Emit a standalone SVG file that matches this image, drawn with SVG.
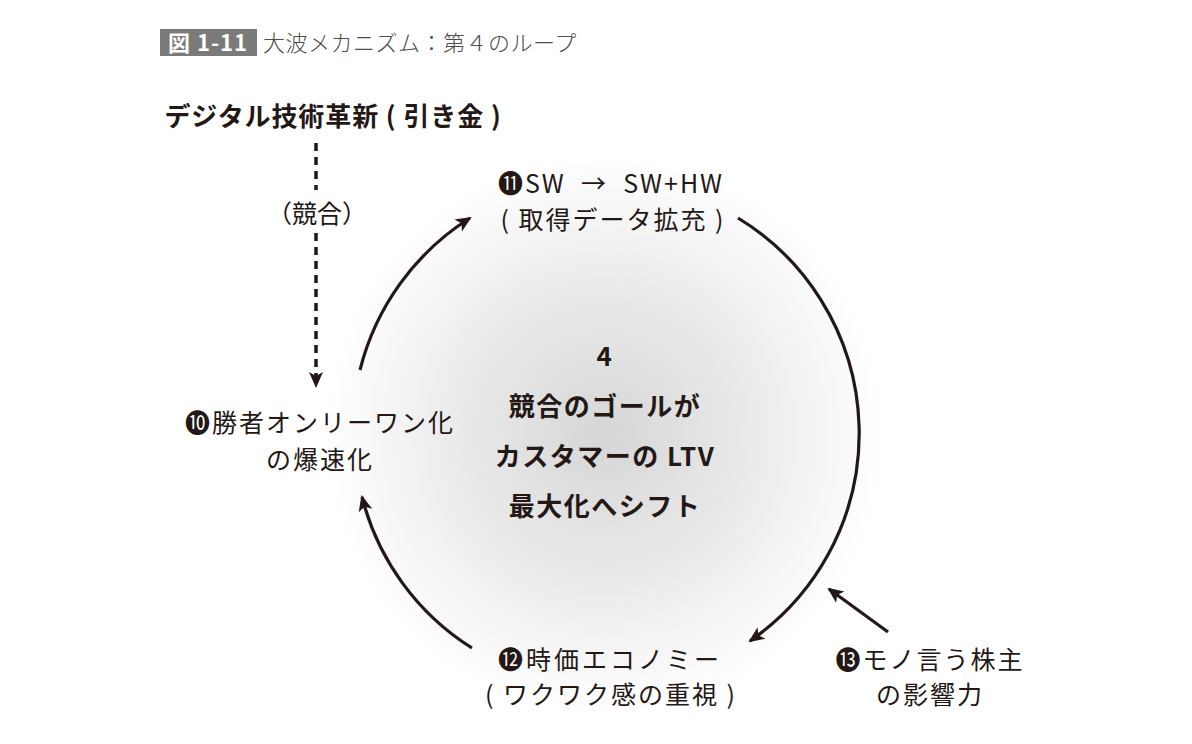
<svg xmlns="http://www.w3.org/2000/svg" width="1192" height="744" viewBox="0 0 1192 744">
<defs>
<radialGradient id="glow" cx="605" cy="435" r="280" gradientUnits="userSpaceOnUse">
<stop offset="0" stop-color="#d6d6d6"/>
<stop offset="0.55" stop-color="#ebebeb"/>
<stop offset="1" stop-color="#ffffff"/>
</radialGradient>
<marker id="ahl" viewBox="0 0 16 16" refX="14" refY="8" markerWidth="16" markerHeight="16" markerUnits="userSpaceOnUse" orient="auto">
<path d="M0,1 L16,8 L0,15 L4,8 Z" fill="#231815"/>
</marker>
</defs>
<style>
text{font-family:"Noto Sans CJK JP","Noto Sans",sans-serif;fill:#231815;}
.lbl{font-size:25px;font-weight:400;text-anchor:middle;letter-spacing:2px;}
.bold{font-size:26px;font-weight:700;text-anchor:middle;letter-spacing:1.5px;}
.arc{fill:none;stroke:#231815;stroke-width:3.2;}
.dash{fill:none;stroke:#231815;stroke-width:3.5;stroke-dasharray:8,6;}
</style>
<rect width="1192" height="744" fill="#ffffff"/>
<circle cx="605" cy="435" r="280" fill="url(#glow)"/>

<g id="title">
<rect x="160" y="29" width="97" height="27" fill="#7a7a7a"/>
<text x="208" y="51" style="font-size:22px;font-weight:700;fill:#ffffff;text-anchor:middle;letter-spacing:1px">図 1-11</text>
<text x="263" y="51" style="font-size:22px;font-weight:300;fill:#4d4d4d;letter-spacing:0.5px">大波メカニズム：第４のループ</text>
</g>

<g id="trigger">
<text class="bold" x="333" y="126" style="letter-spacing:0.9px">デジタル技術革新 ( 引き金 )</text>
</g>

<g id="node11">
<text class="lbl" x="611" y="193" xml:space="preserve">⓫SW  →  SW+HW</text>
<text class="lbl" x="613" y="229">( 取得データ拡充 )</text>
</g>

<g id="node10">
<text class="lbl" x="320" y="432">❿勝者オンリーワン化</text>
<text class="lbl" x="320" y="469">の爆速化</text>
</g>

<g id="node12">
<text class="lbl" x="610" y="669" style="letter-spacing:3px">⓬時価エコノミー</text>
<text class="lbl" x="611" y="704">( ワクワク感の重視 )</text>
</g>

<g id="node13">
<text class="lbl" x="930" y="669">⓭モノ言う株主</text>
<text class="lbl" x="930" y="704">の影響力</text>
</g>

<g id="center">
<text class="bold" x="605" y="366">4</text>
<text class="bold" x="605" y="416">競合のゴールが</text>
<text class="bold" x="605" y="466">カスタマーの LTV</text>
<text class="bold" x="605" y="516">最大化へシフト</text>
</g>

<g id="competition-label">
<text class="lbl" x="317" y="223" style="letter-spacing:0px">（競合）</text>
</g>

<g id="connectors">
<path class="dash" d="M316,143 L316,190"/>
<path class="dash" d="M316,233 L316,386" marker-end="url(#ahl)"/>
<path class="arc" d="M360,370 A252,252 0 0 1 470,218" marker-end="url(#ahl)"/>
<path class="arc" d="M738,218 A252,252 0 0 1 750,641" marker-end="url(#ahl)"/>
<path class="arc" d="M472,648 A252,252 0 0 1 362,497" marker-end="url(#ahl)"/>
<path class="arc" d="M888,632 L829,589" marker-end="url(#ahl)"/>
</g>
</svg>
